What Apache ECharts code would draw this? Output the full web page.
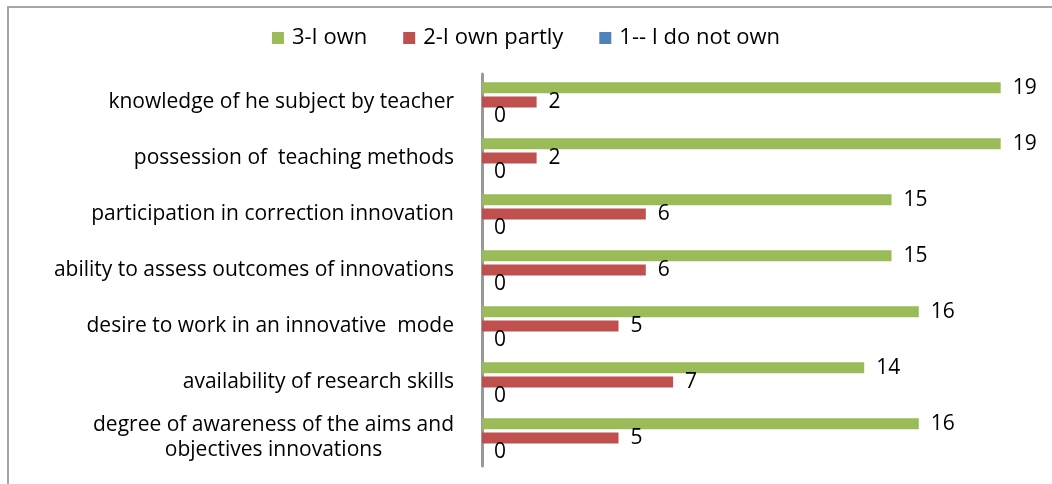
<!DOCTYPE html>
<html>
<head>
<meta charset="utf-8">
<script src="https://cdn.jsdelivr.net/npm/echarts@6/dist/echarts.min.js"></script>
<style>
  html, body { margin: 0; padding: 0; background: #fff; }
  #chart { width: 1052px; height: 484px; }
</style>
</head>
<body>
<div id="chart"></div>
<script>
// categories, top to bottom
const categories = [
  'knowledge of he subject by teacher',
  'possession of  teaching methods',
  'participation in correction innovation',
  'ability to assess outcomes of innovations',
  'desire to work in an innovative  mode',
  'availability of research skills',
  'degree of awareness of the aims and\nobjectives innovations'
];

const seriesNames = ['3-I own', '2-I own partly', '1-- I do not own'];
const own = [19, 19, 15, 15, 16, 14, 16];
const ownPartly = [2, 2, 6, 6, 5, 7, 5];
const notOwn = [0, 0, 0, 0, 0, 0, 0];

const colors = ['#9BBB59', '#C0504D', '#4F81BD'];
const font = '"Open Sans", sans-serif';
const fontSize = 21;

// width of the longest line of the two-line label, so its lines centre on each other
function textWidth(s) {
  const ctx = document.createElement('canvas').getContext('2d');
  ctx.font = fontSize + 'px ' + font;
  return Math.ceil(ctx.measureText(s).width);
}
const blockWidth = Math.max.apply(null, categories[6].split('\n').map(textWidth));

const chart = echarts.init(document.getElementById('chart'));

function barSeries(name, data, color) {
  return {
    name: name,
    type: 'bar',
    data: data,
    barWidth: 11,
    barGap: '30%',
    itemStyle: { color: color },
    label: {
      show: true,
      position: 'right',
      distance: 12,
      color: '#000',
      fontSize: fontSize,
      fontFamily: font
    }
  };
}

chart.setOption({
  animation: false,
  color: colors,
  textStyle: { fontFamily: font },
  legend: {
    top: 22,
    left: 'center',
    itemWidth: 12,
    itemHeight: 12,
    itemGap: 36,
    icon: 'rect',
    textStyle: { fontSize: 22, color: '#000', fontFamily: font, padding: [0, 0, 0, 3] },
    data: seriesNames
  },
  grid: { left: 482, right: 24, top: 74, bottom: 18, containLabel: false },
  xAxis: {
    type: 'value',
    min: 0,
    max: 20,
    show: false
  },
  yAxis: {
    type: 'category',
    inverse: true,
    data: categories,
    axisLine: { show: true, lineStyle: { color: '#999', width: 3 } },
    axisTick: { show: false },
    axisLabel: {
      margin: 28,
      color: '#000',
      fontSize: fontSize,
      fontFamily: font,
      lineHeight: 25,
      formatter: function (v) {
        if (v.indexOf('\n') < 0) return v;
        return v.split('\n').map(function (s) { return '{c|' + s + '}'; }).join('\n');
      },
      rich: {
        c: { width: blockWidth, align: 'center', fontSize: fontSize, fontFamily: font, color: '#000', lineHeight: 25 }
      }
    }
  },
  graphic: [
    { type: 'line', shape: { x1: 7, y1: 7, x2: 1052, y2: 7 }, style: { stroke: '#a6a6a6', lineWidth: 2 } },
    { type: 'line', shape: { x1: 8, y1: 6, x2: 8, y2: 484 }, style: { stroke: '#a6a6a6', lineWidth: 2 } }
  ],
  series: [
    barSeries(seriesNames[0], own, colors[0]),
    barSeries(seriesNames[1], ownPartly, colors[1]),
    barSeries(seriesNames[2], notOwn, colors[2])
  ]
});
</script>
</body>
</html>
